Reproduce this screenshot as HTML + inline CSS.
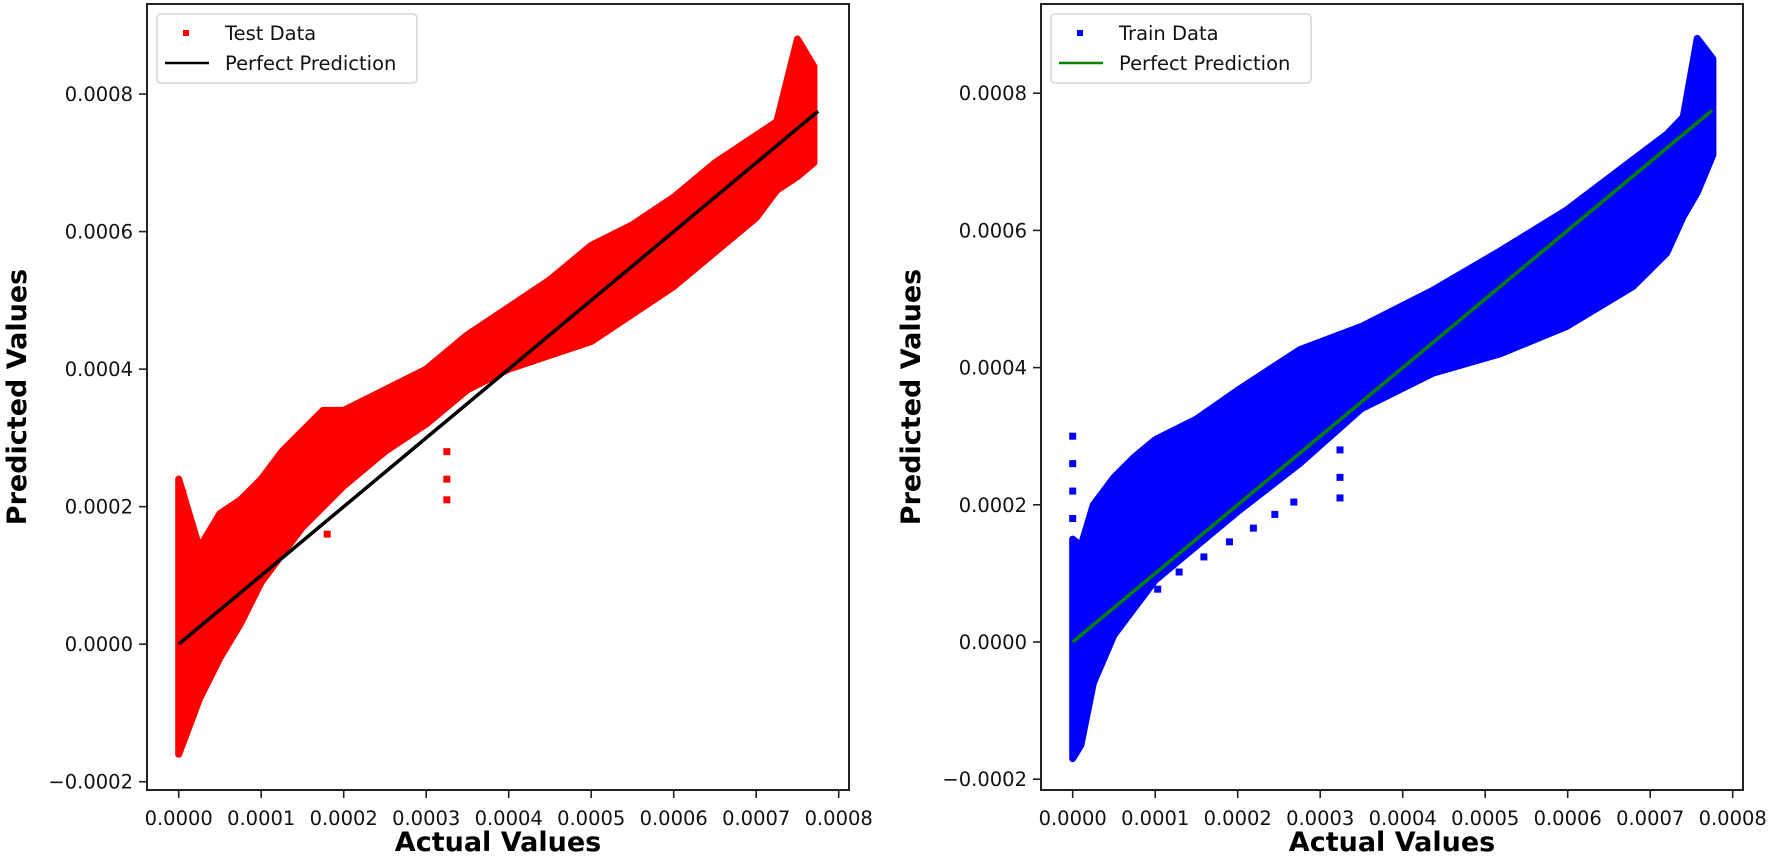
<!DOCTYPE html>
<html><head><meta charset="utf-8"><style>
body{margin:0;background:#fff;}
svg{display:block;font-family:"DejaVu Sans","Liberation Sans",sans-serif;}
</style></head><body>
<svg id="fig" width="1772" height="862" viewBox="0 0 1772 862" xmlns="http://www.w3.org/2000/svg"></svg>
<script>
// ---- data (units of 1e-4) ----
const xTicks = [0,1,2,3,4,5,6,7,8];
const xTickLabels = ["0.0000","0.0001","0.0002","0.0003","0.0004","0.0005","0.0006","0.0007","0.0008"];
const yTicks = [-2,0,2,4,6,8];
const yTickLabels = ["\u22120.0002","0.0000","0.0002","0.0004","0.0006","0.0008"];
const perfectLine = [0, 7.75];

const testX  = [0, 0.25, 0.5, 0.75, 1.0, 1.25, 1.5, 1.75, 2.0, 2.5, 3.0, 3.5, 4.0, 4.5, 5.0, 5.5, 6.0, 6.5, 7.0, 7.25, 7.5, 7.7];
const testHi = [2.4, 1.4, 1.9, 2.1, 2.4, 2.8, 3.1, 3.4, 3.4, 3.7, 4.0, 4.5, 4.9, 5.3, 5.8, 6.1, 6.5, 7.0, 7.4, 7.6, 8.8, 8.4];
const testLo = [-1.6, -0.8, -0.2, 0.3, 0.9, 1.3, 1.7, 2.0, 2.3, 2.8, 3.2, 3.7, 4.0, 4.2, 4.4, 4.8, 5.2, 5.7, 6.2, 6.6, 6.8, 7.0];
const testExtraX = [3.25, 3.25, 3.25, 1.8, 0.05, 0.05];
const testExtraY = [2.1, 2.4, 2.8, 1.6, 2.2, 1.8];

const trainX  = [0, 0.1, 0.25, 0.5, 0.75, 1.0, 1.5, 2.0, 2.75, 3.5, 4.37, 5.18, 5.99, 6.79, 7.2, 7.4, 7.57, 7.76];
const trainHi = [1.5, 1.4, 2.0, 2.4, 2.7, 2.95, 3.25, 3.67, 4.26, 4.6, 5.13, 5.7, 6.3, 7.03, 7.4, 7.65, 8.8, 8.5];
const trainLo = [-1.7, -1.5, -0.6, 0.1, 0.5, 0.9, 1.4, 1.9, 2.6, 3.4, 3.92, 4.2, 4.6, 5.18, 5.67, 6.2, 6.55, 7.1];
const trainExtraX = [0, 0, 0, 0, 1.03, 1.29, 1.59, 1.90, 2.19, 2.45, 2.68, 3.24, 3.24, 3.24];
const trainExtraY = [3.0, 2.6, 2.2, 1.8, 0.77, 1.02, 1.24, 1.46, 1.66, 1.86, 2.04, 2.1, 2.4, 2.8];

const NS="http://www.w3.org/2000/svg";
const svg=document.getElementById('fig');
function mk(tag,attrs,parent){const e=document.createElementNS(NS,tag);for(const k in attrs)e.setAttribute(k,attrs[k]);(parent||svg).appendChild(e);return e;}

function panel(cfg){
  const g=mk('g',{});
  
  
  const sx=v=>cfg.x0+cfg.kx*v, sy=v=>cfg.y0-cfg.ky*v;
  let pts=[];
  for(let i=0;i<cfg.X.length;i++)pts.push(sx(cfg.X[i])+','+sy(cfg.Hi[i]));
  for(let i=cfg.X.length-1;i>=0;i--)pts.push(sx(cfg.X[i])+','+sy(cfg.Lo[i]));
  const band=mk('polygon',{points:pts.join(' '),fill:cfg.color,stroke:cfg.color,'stroke-width':7,'stroke-linejoin':'round'},g);
  
  
  for(let i=0;i<cfg.EX.length;i++){
    const r=mk('rect',{x:sx(cfg.EX[i])-3.5,y:sy(cfg.EY[i])-3.5,width:7,height:7,fill:cfg.color},g);
    
    
  }
  const ln=mk('line',{x1:sx(perfectLine[0]),y1:sy(perfectLine[0]),x2:sx(perfectLine[1]),y2:sy(perfectLine[1]),stroke:cfg.lineColor,'stroke-width':3.5},g);
  
  
  const fr=mk('rect',{x:cfg.L,y:cfg.T,width:cfg.R-cfg.L,height:cfg.B-cfg.T,fill:'none',stroke:'#222','stroke-width':2},g);
  
  
  xTicks.forEach((t,i)=>{
    const x=sx(t);
    mk('line',{x1:x,y1:cfg.B,x2:x,y2:cfg.B+8,stroke:'#222','stroke-width':1.6},g);
    const tx=mk('text',{x:x,y:cfg.B+35,'text-anchor':'middle','font-size':19.5,fill:'#111'},g);
    tx.textContent=xTickLabels[i];
    
    
  });
  yTicks.forEach((t,i)=>{
    const y=sy(t);
    mk('line',{x1:cfg.L-8,y1:y,x2:cfg.L,y2:y,stroke:'#222','stroke-width':1.6},g);
    const tx=mk('text',{x:cfg.L-14,y:y+7,'text-anchor':'end','font-size':19.5,fill:'#111'},g);
    tx.textContent=yTickLabels[i];
    
    
  });
  const xl=mk('text',{x:(cfg.L+cfg.R)/2,y:851,'text-anchor':'middle','font-size':27,'font-weight':'bold',fill:'#000'},g);
  xl.textContent='Actual Values';
  
  
  const yl=mk('text',{x:0,y:0,'text-anchor':'middle','font-size':27,'font-weight':'bold',fill:'#000',transform:`translate(${cfg.L-121},${(cfg.T+cfg.B)/2}) rotate(-90)`},g);
  yl.textContent='Predicted Values';
  
  
  const lg=mk('g',{},g);
  
  
  const lx=cfg.L+10;
  mk('rect',{x:lx,y:14,width:260,height:69,rx:4,fill:'#fff',stroke:'#d6d6d6','stroke-width':1.5},lg);
  mk('rect',{x:lx+26,y:30,width:6,height:6,fill:cfg.color},lg);
  mk('line',{x1:lx+8,y1:63,x2:lx+52,y2:63,stroke:cfg.lineColor,'stroke-width':2.5},lg);
  const t1=mk('text',{x:lx+68,y:40,'font-size':19.5,fill:'#111'},lg);
  t1.textContent=cfg.label;
  
  
  const t2=mk('text',{x:lx+68,y:70,'font-size':19.5,fill:'#111'},lg);
  t2.textContent='Perfect Prediction';
  
  
}
panel({name:'test-panel',series:'test',label:'Test Data',color:'#ff0000',lineColor:'#000',
  L:147,R:849,T:4,B:790,x0:178.7,kx:82.5,y0:644.2,ky:68.77,
  X:testX,Hi:testHi,Lo:testLo,EX:testExtraX,EY:testExtraY});
panel({name:'train-panel',series:'train',label:'Train Data',color:'#0000ff',lineColor:'#008000',
  L:1041,R:1743,T:4,B:790,x0:1072.7,kx:82.5,y0:642,ky:68.6,
  X:trainX,Hi:trainHi,Lo:trainLo,EX:trainExtraX,EY:trainExtraY});
</script>
</body></html>
